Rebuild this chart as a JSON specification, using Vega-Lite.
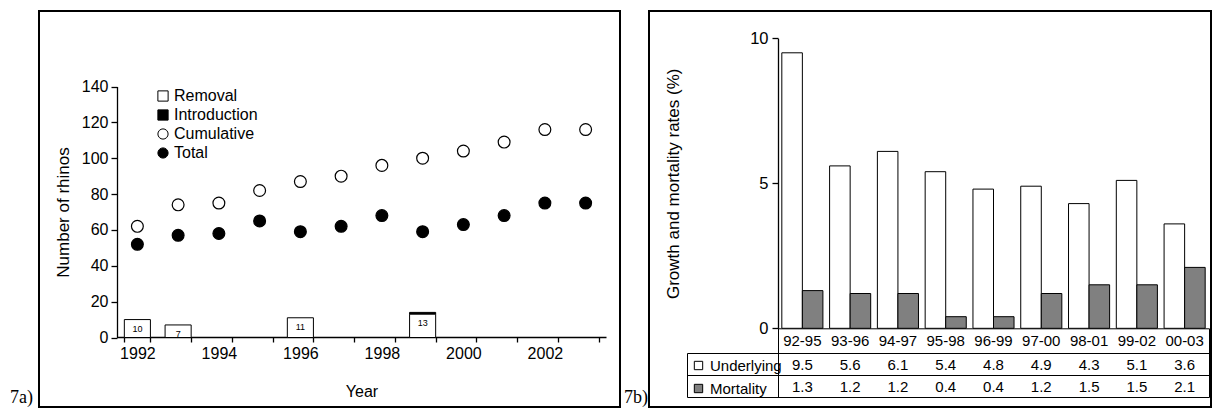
{
  "$schema": "https://vega.github.io/schema/vega-lite/v6.json",
  "padding": {"left": 9, "top": 10, "right": 0, "bottom": 0},
  "background": "white",
  "spacing": 2,
  "resolve": {"scale": {"fill": "independent", "shape": "independent"}, "legend": {"fill": "independent", "shape": "independent"}},
  "config": {
    "view": {"stroke": "black", "strokeWidth": 2},
    "font": "Liberation Sans",
    "axis": {"labelColor": "black", "titleColor": "black", "domainColor": "black", "tickColor": "black", "labelFont": "Liberation Sans", "titleFont": "Liberation Sans", "titleFontWeight": "normal", "labelFontSize": 16, "titleFontSize": 17, "grid": false, "domainWidth": 1.3, "tickWidth": 1.3},
    "legend": {"labelFont": "Liberation Sans", "labelColor": "black"},
    "title": {"font": "Liberation Serif", "fontWeight": "normal", "color": "black", "fontSize": 18}
  },
  "datasets": {
    "bars": [
      {"year": 1992, "series": "Removal", "count": 10},
      {"year": 1993, "series": "Removal", "count": 7},
      {"year": 1996, "series": "Removal", "count": 11},
      {"year": 1999, "series": "Introduction", "count": 1},
      {"year": 1999, "series": "Removal", "count": 13}
    ],
    "points": [
      {"year": 1992, "series": "Cumulative", "count": 62},
      {"year": 1993, "series": "Cumulative", "count": 74},
      {"year": 1994, "series": "Cumulative", "count": 75},
      {"year": 1995, "series": "Cumulative", "count": 82},
      {"year": 1996, "series": "Cumulative", "count": 87},
      {"year": 1997, "series": "Cumulative", "count": 90},
      {"year": 1998, "series": "Cumulative", "count": 96},
      {"year": 1999, "series": "Cumulative", "count": 100},
      {"year": 2000, "series": "Cumulative", "count": 104},
      {"year": 2001, "series": "Cumulative", "count": 109},
      {"year": 2002, "series": "Cumulative", "count": 116},
      {"year": 2003, "series": "Cumulative", "count": 116},
      {"year": 1992, "series": "Total", "count": 52},
      {"year": 1993, "series": "Total", "count": 57},
      {"year": 1994, "series": "Total", "count": 58},
      {"year": 1995, "series": "Total", "count": 65},
      {"year": 1996, "series": "Total", "count": 59},
      {"year": 1997, "series": "Total", "count": 62},
      {"year": 1998, "series": "Total", "count": 68},
      {"year": 1999, "series": "Total", "count": 59},
      {"year": 2000, "series": "Total", "count": 63},
      {"year": 2001, "series": "Total", "count": 68},
      {"year": 2002, "series": "Total", "count": 75},
      {"year": 2003, "series": "Total", "count": 75}
    ],
    "rates": [
      {"period": "92-95", "series": "Underlying", "rate": 9.5},
      {"period": "93-96", "series": "Underlying", "rate": 5.6},
      {"period": "94-97", "series": "Underlying", "rate": 6.1},
      {"period": "95-98", "series": "Underlying", "rate": 5.4},
      {"period": "96-99", "series": "Underlying", "rate": 4.8},
      {"period": "97-00", "series": "Underlying", "rate": 4.9},
      {"period": "98-01", "series": "Underlying", "rate": 4.3},
      {"period": "99-02", "series": "Underlying", "rate": 5.1},
      {"period": "00-03", "series": "Underlying", "rate": 3.6},
      {"period": "92-95", "series": "Mortality", "rate": 1.3},
      {"period": "93-96", "series": "Mortality", "rate": 1.2},
      {"period": "94-97", "series": "Mortality", "rate": 1.2},
      {"period": "95-98", "series": "Mortality", "rate": 0.4},
      {"period": "96-99", "series": "Mortality", "rate": 0.4},
      {"period": "97-00", "series": "Mortality", "rate": 1.2},
      {"period": "98-01", "series": "Mortality", "rate": 1.5},
      {"period": "99-02", "series": "Mortality", "rate": 1.5},
      {"period": "00-03", "series": "Mortality", "rate": 2.1}
    ]
  },
  "hconcat": [
    {
      "width": 581,
      "height": 396,
      "title": {"text": "7a)", "orient": "left", "angle": 0, "anchor": "start", "align": "right", "baseline": "bottom", "offset": -17},
      "layer": [
        {
          "data": {"name": "bars"},
          "mark": {"type": "bar", "stroke": "black", "strokeWidth": 1},
          "encoding": {
            "x": {"field": "year", "type": "ordinal",
              "scale": {"domain": [1992,1993,1994,1995,1996,1997,1998,1999,2000,2001,2002,2003], "range": [78, 567], "paddingInner": 0.36, "paddingOuter": 0.18},
              "axis": {"offset": -70, "tickBand": "extent", "tickSize": 5, "labelPadding": 3, "labelAngle": 0, "labelExpr": "datum.value % 2 == 0 ? datum.label : ''", "title": "Year", "titleFontSize": 16, "titlePadding": 22}},
            "y": {"field": "count", "type": "quantitative", "stack": "zero",
              "scale": {"domain": [0, 140], "range": [326.5, 75.5], "nice": false},
              "axis": {"values": [0,20,40,60,80,100,120,140], "offset": -78, "tickSize": 6, "labelPadding": 3, "title": "Number of rhinos", "titlePadding": 9}},
            "fill": {"field": "series", "type": "nominal",
              "scale": {"domain": ["Removal", "Introduction", "Cumulative", "Total"], "range": ["white", "black", "white", "black"]},
              "legend": {"orient": "none", "legendX": 116, "legendY": 77, "title": null, "padding": 0, "symbolStrokeColor": "black", "symbolStrokeWidth": 1, "symbolSize": 105, "labelFontSize": 16, "labelOffset": 3, "rowPadding": 3}}
          }
        },
        {
          "data": {"name": "bars"},
          "transform": [{"filter": "datum.series == 'Removal'"}],
          "mark": {"type": "text", "fontSize": 9, "dy": 9, "baseline": "middle", "color": "black"},
          "encoding": {
            "x": {"field": "year", "type": "ordinal"},
            "y": {"field": "count", "type": "quantitative"},
            "text": {"field": "count", "type": "quantitative"}
          }
        },
        {
          "data": {"name": "points"},
          "mark": {"type": "point", "filled": true, "size": 140, "stroke": "black", "strokeWidth": 1.2, "opacity": 1},
          "encoding": {
            "x": {"field": "year", "type": "ordinal"},
            "y": {"field": "count", "type": "quantitative"},
            "fill": {"field": "series", "type": "nominal"},
            "shape": {"field": "series", "type": "nominal",
              "scale": {"domain": ["Removal", "Introduction", "Cumulative", "Total"], "range": ["square", "square", "circle", "circle"]}}
          }
        }
      ]
    },
    {
      "width": 562,
      "height": 396,
      "title": {"text": "7b)", "orient": "left", "angle": 0, "anchor": "start", "align": "right", "baseline": "bottom", "offset": -23},
      "data": {"name": "rates"},
      "encoding": {
        "x": {"field": "period", "type": "nominal", "sort": null,
          "scale": {"domain": ["92-95","93-96","94-97","95-98","96-99","97-00","98-01","99-02","00-03"], "range": [129, 560], "paddingInner": 0.14, "paddingOuter": 0.08},
          "axis": {"orient": "bottom", "offset": -78.7, "ticks": false, "labelPadding": 5, "labelAngle": 0, "labelFontSize": 15, "title": null, "domainWidth": 1}}
      },
      "layer": [
        {
          "mark": {"type": "bar", "stroke": "black", "strokeWidth": 1},
          "encoding": {
            "xOffset": {"field": "series", "type": "nominal", "scale": {"domain": ["Underlying", "Mortality"]}},
            "y": {"field": "rate", "type": "quantitative",
              "scale": {"domain": [0, 10], "range": [317.3, 27.3], "nice": false},
              "axis": {"values": [0, 5, 10], "offset": -129, "tickSize": 6, "labelPadding": 4, "labelFontSize": 16.5, "title": "Growth and mortality rates (%)", "titlePadding": 67}},
            "fill": {"field": "series", "type": "nominal",
              "scale": {"domain": ["Underlying", "Mortality"], "range": ["white", "#808080"]},
              "legend": {"orient": "none", "legendX": 42, "legendY": 347, "title": null, "padding": 0, "symbolType": "square", "symbolStrokeColor": "black", "symbolStrokeWidth": 1, "symbolSize": 70, "labelFontSize": 15, "labelOffset": 4, "rowPadding": 7}}
          }
        },
        {
          "mark": {"type": "text", "fontSize": 15, "dy": 1, "color": "black"},
          "encoding": {
            "y": {"field": "series", "type": "nominal",
              "scale": {"type": "band", "domain": ["Underlying", "Mortality"], "range": [342, 386], "paddingInner": 0, "paddingOuter": 0},
              "axis": {"orient": "left", "offset": -38, "labels": false, "title": null, "tickBand": "extent", "tickSize": -522, "domainWidth": 1, "tickWidth": 1}},
            "text": {"field": "rate", "type": "quantitative", "format": ".1f"}
          }
        },
        {
          "mark": {"type": "point", "opacity": 0},
          "encoding": {
            "y": {"field": "series", "type": "nominal",
              "scale": {"type": "band", "domain": ["hdr", "Underlying", "Mortality"], "range": [317.3, 386]},
              "axis": {"orient": "left", "offset": -129, "labels": false, "ticks": false, "title": null, "domainWidth": 1}}
          }
        },
        {
          "mark": {"type": "point", "opacity": 0},
          "encoding": {
            "y": {"field": "series", "type": "nominal",
              "scale": {"type": "band", "domain": ["hdr", "Underlying", "Mortality"], "range": [317.3, 386]},
              "axis": {"orient": "right", "offset": -2, "labels": false, "ticks": false, "title": null, "domainWidth": 1}}
          }
        }
      ],
      "resolve": {"scale": {"y": "independent"}}
    }
  ]
}
